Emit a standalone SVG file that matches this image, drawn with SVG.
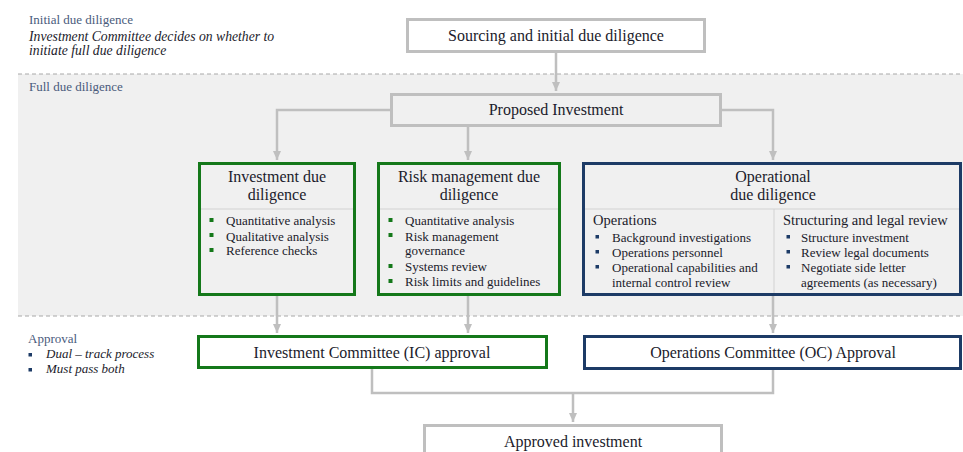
<svg xmlns="http://www.w3.org/2000/svg" width="963" height="452" viewBox="0 0 963 452">
  <style>
    text { font-family: "Liberation Serif", "DejaVu Serif", serif; fill: #1b1b2b; }
    .sec { font-size: 13px; fill: #4a5b7c; }
    .note { font-size: 13px; font-style: italic; fill: #1b1b2b; }
    .note-lg { font-size: 13.7px; }
    .title { font-size: 16px; text-anchor: middle; }
    .item { font-size: 13px; }
    .head { font-size: 14.5px; }
    .plain { fill: #ffffff; stroke: #bfbfbf; stroke-width: 3; }
    .plain-g { fill: #f0f0f0; stroke: #bfbfbf; stroke-width: 3; }
    .green { fill: #f0f0f0; stroke: #14781a; stroke-width: 3; }
    .green-w { fill: #ffffff; stroke: #14781a; stroke-width: 3; }
    .navy { fill: #f0f0f0; stroke: #1d3b66; stroke-width: 3; }
    .navy-w { fill: #ffffff; stroke: #1d3b66; stroke-width: 3; }
    .rule { stroke: #d2d2d2; stroke-width: 1; }
    .dash { stroke: #a8a8a8; stroke-width: 1; stroke-dasharray: 4 3; }
    .conn { fill: none; stroke: #bfbfbf; stroke-width: 2.5; }
    .bg { fill: #14781a; }
    .bn { fill: #1d3b66; }
  </style>
  <defs>
    <marker id="arrow" markerUnits="userSpaceOnUse" markerWidth="10" markerHeight="8" refX="9" refY="4" orient="auto">
      <path d="M0,0 L9,4 L0,8 Z" fill="#bfbfbf"/>
    </marker>
  </defs>

  <!-- background bands -->
  <rect x="18" y="74" width="945" height="242" fill="#f0f0f0"/>
  <line class="dash" x1="18" y1="74" x2="963" y2="74"/>
  <line class="dash" x1="18" y1="316" x2="963" y2="316"/>

  <!-- stage labels -->
  <g id="label-initial">
    <text class="sec" x="29" y="24">Initial due diligence</text>
    <text class="note note-lg" x="29" y="40.5">Investment Committee decides on whether to</text>
    <text class="note note-lg" x="29" y="55">initiate full due diligence</text>
  </g>
  <g id="label-full">
    <text class="sec" x="29" y="91">Full due diligence</text>
  </g>
  <g id="label-approval">
    <text class="sec" x="28" y="343">Approval</text>
    <rect class="bn" x="28.5" y="353" width="3.5" height="3.5"/>
    <text class="note" x="46" y="358">Dual – track process</text>
    <rect class="bn" x="28.5" y="368" width="3.5" height="3.5"/>
    <text class="note" x="46" y="373">Must pass both</text>
  </g>

  <!-- connectors -->
  <g id="connectors">
    <path class="conn" d="M556,53 V91" marker-end="url(#arrow)"/>
    <path class="conn" d="M390,110 H277 V160" marker-end="url(#arrow)"/>
    <path class="conn" d="M468,127 V160" marker-end="url(#arrow)"/>
    <path class="conn" d="M722,110 H773 V160" marker-end="url(#arrow)"/>
    <path class="conn" d="M277,295 V333" marker-end="url(#arrow)"/>
    <path class="conn" d="M468,295 V333" marker-end="url(#arrow)"/>
    <path class="conn" d="M773,296 V333" marker-end="url(#arrow)"/>
    <path class="conn" d="M372,369 V393 H773 V370"/>
    <path class="conn" d="M573,393 V422" marker-end="url(#arrow)"/>
  </g>

  <g id="sourcing">
    <rect class="plain" x="407.5" y="19.5" width="297" height="32"/>
    <text class="title" x="556" y="41">Sourcing and initial due diligence</text>
  </g>

  <g id="proposed">
    <rect class="plain-g" x="391.5" y="94.5" width="329" height="31"/>
    <text class="title" x="556" y="115">Proposed Investment</text>
  </g>

  <g id="investment-dd">
    <rect class="green" x="199.5" y="163.5" width="155" height="131"/>
    <text class="title" x="277" y="182">Investment due</text>
    <text class="title" x="277" y="200">diligence</text>
    <line class="rule" x1="201" y1="209" x2="353" y2="209"/>
    <rect class="bg" x="209.5" y="218" width="4" height="4"/>
    <text class="item" x="226" y="225">Quantitative analysis</text>
    <rect class="bg" x="209.5" y="233" width="4" height="4"/>
    <text class="item" x="226" y="240.5">Qualitative analysis</text>
    <rect class="bg" x="209.5" y="248" width="4" height="4"/>
    <text class="item" x="226" y="255">Reference checks</text>
  </g>

  <g id="risk-dd">
    <rect class="green" x="378.5" y="163.5" width="181" height="131"/>
    <text class="title" x="469" y="182">Risk management due</text>
    <text class="title" x="469" y="200">diligence</text>
    <line class="rule" x1="380" y1="209" x2="558" y2="209"/>
    <rect class="bg" x="388.5" y="218" width="4" height="4"/>
    <text class="item" x="405" y="225">Quantitative analysis</text>
    <rect class="bg" x="388.5" y="233" width="4" height="4"/>
    <text class="item" x="405" y="240.5">Risk management</text>
    <text class="item" x="405" y="255">governance</text>
    <rect class="bg" x="388.5" y="264" width="4" height="4"/>
    <text class="item" x="405" y="271">Systems review</text>
    <rect class="bg" x="388.5" y="279" width="4" height="4"/>
    <text class="item" x="405" y="286">Risk limits and guidelines</text>
  </g>

  <g id="operational-dd">
    <rect class="navy" x="583.5" y="163.5" width="377" height="131"/>
    <text class="title" x="773" y="182">Operational</text>
    <text class="title" x="773" y="200">due diligence</text>
    <line class="rule" x1="585" y1="209" x2="959" y2="209"/>
    <line class="rule" x1="774" y1="209" x2="774" y2="293"/>
    <text class="head" x="593" y="225">Operations</text>
    <rect class="bn" x="595.5" y="235" width="3.5" height="3.5"/>
    <text class="item" x="612" y="242">Background investigations</text>
    <rect class="bn" x="595.5" y="250" width="3.5" height="3.5"/>
    <text class="item" x="612" y="257">Operations personnel</text>
    <rect class="bn" x="595.5" y="265" width="3.5" height="3.5"/>
    <text class="item" x="612" y="272">Operational capabilities and</text>
    <text class="item" x="612" y="287">internal control review</text>
    <text class="head" x="783" y="225">Structuring and legal review</text>
    <rect class="bn" x="786.5" y="235" width="3.5" height="3.5"/>
    <text class="item" x="801" y="242">Structure investment</text>
    <rect class="bn" x="786.5" y="250" width="3.5" height="3.5"/>
    <text class="item" x="801" y="257">Review legal documents</text>
    <rect class="bn" x="786.5" y="265" width="3.5" height="3.5"/>
    <text class="item" x="801" y="272">Negotiate side letter</text>
    <text class="item" x="801" y="287">agreements (as necessary)</text>
  </g>

  <g id="ic-approval">
    <rect class="green-w" x="198.5" y="336.5" width="348" height="31"/>
    <text class="title" x="372" y="357.5">Investment Committee (IC) approval</text>
  </g>

  <g id="oc-approval">
    <rect class="navy-w" x="584.5" y="336.5" width="376" height="32"/>
    <text class="title" x="773" y="357.5">Operations Committee (OC) Approval</text>
  </g>

  <g id="approved">
    <rect class="plain" x="424.5" y="425.5" width="297" height="40"/>
    <text class="title" x="573" y="447">Approved investment</text>
  </g>
</svg>
